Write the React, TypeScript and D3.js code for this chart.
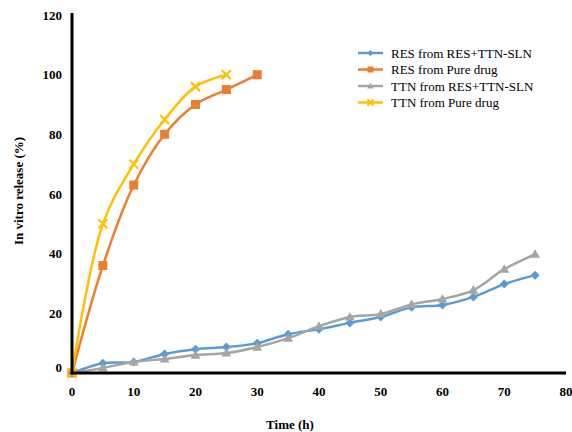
import { useRef, useEffect } from "react";
import * as d3 from "d3";

// Time points (h)
const timeSLN = [0, 5, 10, 15, 20, 25, 30, 35, 40, 45, 50, 55, 60, 65, 70, 75];
const timePure = [0, 5, 10, 15, 20, 25, 30];
const timePureTTN = [0, 5, 10, 15, 20, 25];

// In vitro release (%)
const resSLN = [0, 3.3, 3.7, 6.4, 8, 8.7, 10, 13, 14.7, 16.8, 18.8, 22, 22.8, 25.5, 29.8, 32.8];
const resPure = [0, 36, 63, 80, 90, 95, 100];
const ttnSLN = [0, 1.7, 3.7, 4.7, 6, 6.7, 8.7, 11.7, 15.7, 18.8, 19.8, 23, 24.8, 27.8, 34.8, 39.8];
const ttnPure = [0, 50, 70, 85, 96, 100];

const seriesNames = [
  "RES from RES+TTN-SLN",
  "RES from Pure drug",
  "TTN from RES+TTN-SLN",
  "TTN from Pure drug",
];
const colors = ["#5B9BD5", "#ED7D31", "#A5A5A5", "#FFC000"];
const markers = ["diamond", "square", "triangle", "cross"];

const yTicks = [0, 20, 40, 60, 80, 100, 120];
const xTicks = [0, 10, 20, 30, 40, 50, 60, 70, 80];

export default function App() {
  const ref = useRef<SVGSVGElement>(null);

  useEffect(() => {
    const width = 572;
    const height = 432;
    const svg = d3.select(ref.current).attr("width", width).attr("height", height);
    svg.selectAll("*").remove();

    const x = d3.scaleLinear().domain([0, 80]).range([72, 566]);
    const y = d3.scaleLinear().domain([0, 120]).range([373, 15]);

    const font = "'Liberation Serif', 'Times New Roman', serif";

    const series = [
      { t: timeSLN, v: resSLN },
      { t: timePure, v: resPure },
      { t: timeSLN, v: ttnSLN },
      { t: timePureTTN, v: ttnPure },
    ];

    const line = d3
      .line<[number, number]>()
      .x((d) => x(d[0]))
      .y((d) => y(d[1]))
      .curve(d3.curveCatmullRom.alpha(0.5));

    const drawMarker = (g: any, kind: string, cx: number, cy: number, color: string, s: number) => {
      if (kind === "diamond") {
        g.append("path")
          .attr("d", `M${cx},${cy - s}L${cx + s},${cy}L${cx},${cy + s}L${cx - s},${cy}Z`)
          .attr("fill", color);
      } else if (kind === "square") {
        g.append("rect")
          .attr("x", cx - s)
          .attr("y", cy - s)
          .attr("width", s * 2)
          .attr("height", s * 2)
          .attr("fill", color);
      } else if (kind === "triangle") {
        g.append("path")
          .attr("d", `M${cx},${cy - s * 1.1}L${cx + s * 1.1},${cy + s * 0.8}L${cx - s * 1.1},${cy + s * 0.8}Z`)
          .attr("fill", color);
      } else {
        g.append("path")
          .attr("d", `M${cx - s},${cy - s}L${cx + s},${cy + s}M${cx - s},${cy + s}L${cx + s},${cy - s}`)
          .attr("stroke", color)
          .attr("stroke-width", 2.2)
          .attr("fill", "none");
      }
    };

    // Series lines and markers
    series.forEach((s, i) => {
      const pts = s.t.map((t, j) => [t, s.v[j]] as [number, number]);
      svg
        .append("path")
        .attr("d", line(pts))
        .attr("fill", "none")
        .attr("stroke", colors[i])
        .attr("stroke-width", 2.5);
      const g = svg.append("g");
      pts.forEach((p) => drawMarker(g, markers[i], x(p[0]), y(p[1]), colors[i], 4.5));
    });

    // Axes
    svg
      .append("line")
      .attr("x1", x(0))
      .attr("x2", x(0))
      .attr("y1", y(120) - 2)
      .attr("y2", y(0) + 1.5)
      .attr("stroke", "#000")
      .attr("stroke-width", 3);
    svg
      .append("line")
      .attr("x1", x(0) - 1.5)
      .attr("x2", x(80))
      .attr("y1", y(0))
      .attr("y2", y(0))
      .attr("stroke", "#000")
      .attr("stroke-width", 3);

    svg
      .append("g")
      .selectAll("text")
      .data(yTicks)
      .enter()
      .append("text")
      .attr("x", 62)
      .attr("y", (d) => (d === 0 ? y(d) - 6 : y(d)))
      .attr("dy", "0.35em")
      .attr("text-anchor", "end")
      .attr("font-family", font)
      .attr("font-weight", "bold")
      .attr("font-size", 13)
      .text((d) => d);

    svg
      .append("g")
      .selectAll("text")
      .data(xTicks)
      .enter()
      .append("text")
      .attr("x", (d) => x(d))
      .attr("y", 396)
      .attr("text-anchor", "middle")
      .attr("font-family", font)
      .attr("font-weight", "bold")
      .attr("font-size", 13)
      .text((d) => d);

    // Axis titles
    svg
      .append("text")
      .attr("x", 290)
      .attr("y", 429)
      .attr("text-anchor", "middle")
      .attr("font-family", font)
      .attr("font-weight", "bold")
      .attr("font-size", 13)
      .text("Time (h)");

    svg
      .append("text")
      .attr("transform", "translate(23,191) rotate(-90)")
      .attr("text-anchor", "middle")
      .attr("font-family", font)
      .attr("font-weight", "bold")
      .attr("font-size", 13)
      .text("In vitro release (%)");

    // Legend
    const legend = svg.append("g");
    seriesNames.forEach((name, i) => {
      const ly = 53 + i * 16.5;
      legend
        .append("line")
        .attr("x1", 358)
        .attr("x2", 383)
        .attr("y1", ly)
        .attr("y2", ly)
        .attr("stroke", colors[i])
        .attr("stroke-width", 2.5);
      drawMarker(legend, markers[i], 370.5, ly, colors[i], 3);
      legend
        .append("text")
        .attr("x", 391)
        .attr("y", ly)
        .attr("dy", "0.35em")
        .attr("font-family", font)
        .attr("font-size", 13)
        .text(name);
    });
  }, []);

  return (
    <div>
      <svg ref={ref} style={{ position: "absolute", left: 0, top: 0 }} />
    </div>
  );
}
